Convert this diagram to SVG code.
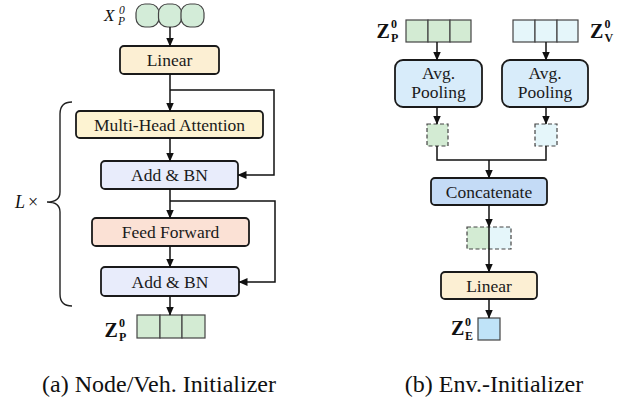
<svg xmlns="http://www.w3.org/2000/svg" width="626" height="405" viewBox="0 0 626 405">
<defs>
<marker id="ah" markerWidth="9" markerHeight="8" refX="8.5" refY="4" orient="auto" markerUnits="userSpaceOnUse">
<path d="M0,0 L9,4 L0,8 Z" fill="#111"/>
</marker>
<style>
.box{stroke:#1a1a1a;stroke-width:1.8}
.cell{stroke:#444;stroke-width:1.2}
.dash{stroke:#444;stroke-width:1.2;stroke-dasharray:4,2.5}
.lbl{font-family:"Liberation Serif","Times New Roman",serif;font-size:17.5px;fill:#1a1a1a;text-anchor:middle}
.cap{font-family:"Liberation Serif","Times New Roman",serif;font-size:24px;fill:#111;text-anchor:middle}
.zb{font-family:"Liberation Serif","Times New Roman",serif;font-weight:bold;fill:#111;font-size:20px}
.zb .s{font-size:12px}
.it{font-family:"Liberation Serif","Times New Roman",serif;font-style:italic;fill:#111}
.conn{fill:none;stroke:#111;stroke-width:1.5}
</style>
</defs>
<rect width="626" height="405" fill="#fff"/>

<!-- Left panel -->
<g id="input-x">
<rect class="cell" x="136" y="4" width="23" height="23" rx="9" fill="#d3ecd8"/>
<rect class="cell" x="158.5" y="4" width="23" height="23" rx="9" fill="#d3ecd8"/>
<rect class="cell" x="181" y="4" width="23" height="23" rx="9" fill="#d3ecd8"/>
<text class="it" font-size="17"><tspan x="104" y="21">X</tspan><tspan x="119" y="14" font-size="11.5">0</tspan><tspan x="118" y="25" font-size="11.5">P</tspan></text>
</g>
<g id="linear-a">
<rect class="box" x="120" y="46" width="99" height="28" rx="4" fill="#fcefd3"/>
<text class="lbl" x="169.5" y="66">Linear</text>
</g>
<g id="mha">
<rect class="box" x="76" y="111" width="187" height="27" rx="4" fill="#fdf3d2"/>
<text class="lbl" x="169.5" y="130.5">Multi-Head Attention</text>
</g>
<g id="addbn1">
<rect class="box" x="101" y="161" width="137" height="28" rx="4" fill="#e8ecfb"/>
<text class="lbl" x="169.5" y="181">Add &amp; BN</text>
</g>
<g id="ff">
<rect class="box" x="92" y="218" width="157" height="28" rx="4" fill="#fbe1d5"/>
<text class="lbl" x="170.5" y="238">Feed Forward</text>
</g>
<g id="addbn2">
<rect class="box" x="101" y="267" width="138" height="29" rx="4" fill="#e8ecfb"/>
<text class="lbl" x="170" y="287.5">Add &amp; BN</text>
</g>
<g id="out-zp">
<rect class="cell" x="137" y="315" width="23" height="23" fill="#d3ebd3"/>
<rect class="cell" x="160" y="315" width="22" height="23" fill="#d3ebd3"/>
<rect class="cell" x="182" y="315" width="23" height="23" fill="#d3ebd3"/>
<text class="zb"><tspan x="104.5" y="337">Z</tspan><tspan class="s" x="119" y="327">0</tspan><tspan class="s" x="119" y="341">P</tspan></text>
</g>
<g id="repeat-brace">
<path d="M72,102 Q60,102 60,114 V192 Q60,202 47,202 Q60,202 60,212 V294 Q60,306 72,306" fill="none" stroke="#222" stroke-width="1.4"/>
<text class="it" font-size="18"><tspan x="15" y="208">L</tspan><tspan x="28" font-style="normal">×</tspan></text>
</g>

<!-- Right panel -->
<g id="in-zp">
<rect class="cell" x="406" y="20" width="22" height="22" fill="#d3ebd3"/>
<rect class="cell" x="428" y="20" width="22" height="22" fill="#d3ebd3"/>
<rect class="cell" x="450" y="20" width="21" height="22" fill="#d3ebd3"/>
<text class="zb"><tspan x="376.5" y="38">Z</tspan><tspan class="s" x="391" y="28">0</tspan><tspan class="s" x="391" y="42">P</tspan></text>
</g>
<g id="in-zv">
<rect class="cell" x="513" y="20" width="22" height="22" fill="#e5f6fa"/>
<rect class="cell" x="535" y="20" width="22" height="22" fill="#e5f6fa"/>
<rect class="cell" x="557" y="20" width="21" height="22" fill="#e5f6fa"/>
<text class="zb"><tspan x="590" y="38">Z</tspan><tspan class="s" x="604.5" y="28">0</tspan><tspan class="s" x="604.5" y="42">V</tspan></text>
</g>
<g id="pool-p">
<rect class="box" x="395" y="60" width="87" height="47" rx="8" fill="#d8ecfa"/>
<text class="lbl" x="438.5" y="79">Avg.</text>
<text class="lbl" x="438.5" y="98">Pooling</text>
</g>
<g id="pool-v">
<rect class="box" x="502" y="60" width="86" height="47" rx="8" fill="#d8ecfa"/>
<text class="lbl" x="545" y="79">Avg.</text>
<text class="lbl" x="545" y="98">Pooling</text>
</g>
<g id="pooled-p">
<rect class="dash" x="427" y="124" width="21" height="22" fill="#d3ebd3"/>
</g>
<g id="pooled-v">
<rect class="dash" x="535" y="124" width="22" height="22" fill="#e5f6fa"/>
</g>
<g id="concat">
<rect class="box" x="431" y="178" width="116" height="27" rx="4" fill="#c4dbf6"/>
<text class="lbl" x="489" y="197.5">Concatenate</text>
</g>
<g id="concat-vec">
<rect x="467" y="227" width="22" height="22" fill="#d3ebd3"/>
<rect x="489" y="227" width="22" height="22" fill="#e5f6fa"/>
<rect class="dash" x="467" y="227" width="44" height="22" fill="none"/>
</g>
<g id="linear-b">
<rect class="box" x="441" y="272" width="96" height="27" rx="4" fill="#fcefd3"/>
<text class="lbl" x="489" y="291.5">Linear</text>
</g>
<g id="out-ze">
<rect class="cell" x="478" y="318" width="22" height="22" fill="#bfe3f8"/>
<text class="zb" font-size="19"><tspan x="451" y="335">Z</tspan><tspan class="s" x="465" y="326" font-size="11.5">0</tspan><tspan class="s" x="465" y="339.5" font-size="11.5">E</tspan></text>
</g>

<g id="connectors">
<path class="conn" d="M170,27 V46" marker-end="url(#ah)"/>
<path class="conn" d="M170,74 V111" marker-end="url(#ah)"/>
<path class="conn" d="M170,90 H274 V175 H238" marker-end="url(#ah)"/>
<path class="conn" d="M170,138 V161" marker-end="url(#ah)"/>
<path class="conn" d="M170,189 V218" marker-end="url(#ah)"/>
<path class="conn" d="M170,201 H275 V282 H239" marker-end="url(#ah)"/>
<path class="conn" d="M170,246 V267" marker-end="url(#ah)"/>
<path class="conn" d="M170,296 V315" marker-end="url(#ah)"/>

<path class="conn" d="M437,42 V60" marker-end="url(#ah)"/>
<path class="conn" d="M546,42 V60" marker-end="url(#ah)"/>
<path class="conn" d="M437,107 V124" marker-end="url(#ah)"/>
<path class="conn" d="M546,107 V124" marker-end="url(#ah)"/>
<path class="conn" d="M437,146 V160 H546 V146"/>
<path class="conn" d="M489,160 V178" marker-end="url(#ah)"/>
<path class="conn" d="M489,205 V227" marker-end="url(#ah)"/>
<path class="conn" d="M489,227 V272" marker-end="url(#ah)"/>
<path class="conn" d="M489,299 V318" marker-end="url(#ah)"/>
</g>

<text class="cap" x="159" y="392">(a) Node/Veh. Initializer</text>
<text class="cap" x="494" y="392">(b) Env.-Initializer</text>
</svg>
